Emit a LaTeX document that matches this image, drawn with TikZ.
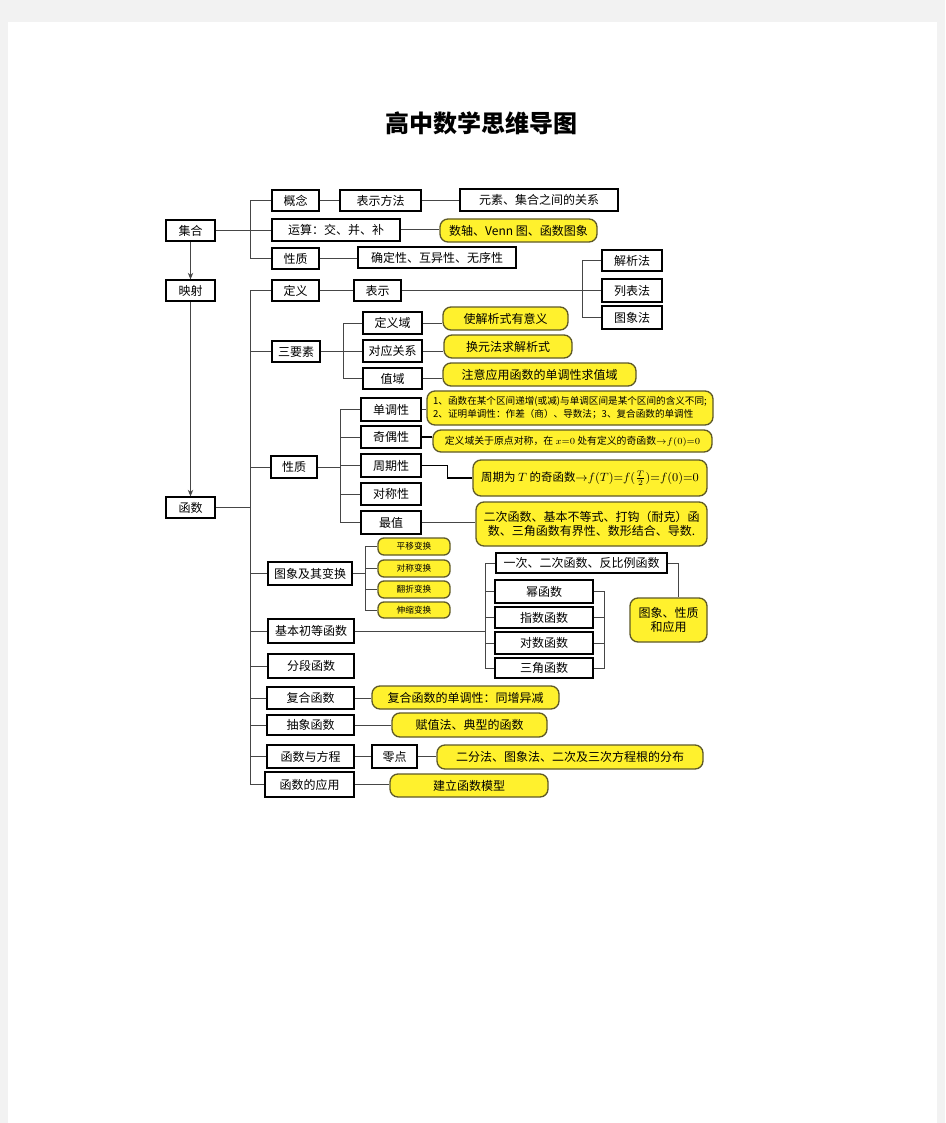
\documentclass[tikz,border=0pt]{standalone}
\usepackage{fontspec}
\setmainfont{Noto Sans CJK SC}
\usetikzlibrary{arrows.meta,calc}
\definecolor{yfill}{RGB}{255,241,45}
\definecolor{ydraw}{RGB}{95,90,40}
\definecolor{lgray}{RGB}{242,242,242}
\definecolor{lnc}{RGB}{70,70,70}
\newcommand\mkbox[7]{%
  \pgfmathsetmacro\cxx{(#2+#4)/2}\pgfmathsetmacro\cyy{(#3+#5)/2}%
  \pgfmathsetmacro\ww{(#4-#2)*0.75}\pgfmathsetmacro\hh{(#5-#3)*0.75}%
  \node[#6, minimum width=\ww pt, minimum height=\hh pt, inner sep=0pt] (#1) at (\cxx,\cyy) {#7};}
\begin{document}
\begin{tikzpicture}[x=0.75pt,y=-0.75pt,
  wbox/.style={draw=black,line width=0.8pt,fill=white,font=\fontsize{9}{11}\selectfont,align=center},
  ybox/.style={draw=ydraw,fill=yfill,line width=1pt,rounded corners=6pt,font=\fontsize{9}{11}\selectfont,align=center},
  sbox/.style={ybox,rounded corners=4.5pt,font=\fontsize{6.5}{8}\selectfont},
  conn/.style={draw=lnc,line width=0.75pt},
  arr/.style={conn,-{Stealth[length=5pt,width=4pt]}}]
\useasboundingbox (0,0) rectangle (945,1123);
\fill[lgray] (0,0) rectangle (945,1123);
\fill[white] (8,22) rectangle (937,1123);
\node[font=\fontsize{18}{20}\selectfont\bfseries] (title) at (481,123) {高中数学思维导图};
% 集合
\mkbox{jihe}{166}{220}{215}{241}{wbox}{集合}
\mkbox{yingshe}{166}{280}{215}{301}{wbox}{映射}
\mkbox{hanshu}{166}{497}{215}{518}{wbox}{函数}
\mkbox{gainian}{272}{190}{319}{211}{wbox}{概念}
\mkbox{yunsuan}{272}{219}{400}{241}{wbox}{运算：交、并、补}
\mkbox{xz1}{272}{248}{319}{269}{wbox}{性质}
\mkbox{bsff}{340}{190}{421}{211}{wbox}{表示方法}
\mkbox{ysgx}{460}{189}{618}{211}{wbox}{元素、集合之间的关系}
\mkbox{shuzhou}{440}{219}{597}{242}{ybox}{数轴、Venn 图、函数图象}
\mkbox{qdx}{358}{247}{516}{268}{wbox}{确定性、互异性、无序性}
% 定义
\mkbox{dingyi}{272}{280}{319}{301}{wbox}{定义}
\mkbox{biaoshi}{354}{280}{401}{301}{wbox}{表示}
\mkbox{jiexi}{602}{250}{662}{271}{wbox}{解析法}
\mkbox{liebiao}{602}{279}{662}{302}{wbox}{列表法}
\mkbox{tuxiang}{602}{306}{662}{329}{wbox}{图象法}
% 三要素
\mkbox{sanys}{272}{341}{320}{362}{wbox}{三要素}
\mkbox{dyy}{363}{312}{422}{334}{wbox}{定义域}
\mkbox{dygx}{363}{340}{422}{362}{wbox}{对应关系}
\mkbox{zy}{363}{368}{422}{389}{wbox}{值域}
\mkbox{dyyY}{443}{307}{568}{330}{ybox}{使解析式有意义}
\mkbox{dygxY}{444}{335}{572}{358}{ybox}{换元法求解析式}
\mkbox{zyY}{443}{363}{636}{386}{ybox}{注意应用函数的单调性求值域}
% 性质
\mkbox{xz2}{271}{456}{317}{478}{wbox}{性质}
\mkbox{ddx}{361}{398}{421}{421}{wbox}{单调性}
\mkbox{jox}{361}{426}{421}{448}{wbox}{奇偶性}
\mkbox{zqx}{361}{454}{421}{477}{wbox}{周期性}
\mkbox{dcx}{361}{483}{421}{505}{wbox}{对称性}
\mkbox{zz}{361}{511}{421}{534}{wbox}{最值}
\mkbox{ddxY}{427}{391}{713}{425}{ybox,align=left,font=\fontsize{7.2}{10}\selectfont}{1、函数在某个区间递增(或减)与单调区间是某个区间的含义不同;\\2、证明单调性：作差（商）、导数法；3、复合函数的单调性}
\mkbox{joxY}{433}{430}{712}{452}{ybox,font=\fontsize{7.4}{9}\selectfont}{定义域关于原点对称，在 $x{=}0$ 处有定义的奇函数${\rightarrow}f(0){=}0$}
\mkbox{zqxY}{473}{460}{707}{496}{ybox,font=\fontsize{8.6}{10}\selectfont}{周期为 $T$ 的奇函数${\rightarrow}f(T){=}f(\frac{T}{2}){=}f(0){=}0$}
\mkbox{zzY}{476}{502}{707}{546}{ybox}{二次函数、基本不等式、打钩（耐克）函\\数、三角函数有界性、数形结合、导数.}
% 图象及其变换
\mkbox{txbh}{268}{562}{352}{585}{wbox}{图象及其变换}
\mkbox{py}{378}{538}{450}{555}{sbox}{平移变换}
\mkbox{dc}{378}{560}{450}{577}{sbox}{对称变换}
\mkbox{fz}{378}{581}{450}{598}{sbox}{翻折变换}
\mkbox{ss}{378}{602}{450}{618}{sbox}{伸缩变换}
% 基本初等函数
\mkbox{jbcd}{268}{619}{354}{643}{wbox}{基本初等函数}
\mkbox{ycec}{496}{553}{667}{573}{wbox}{一次、二次函数、反比例函数}
\mkbox{mhs}{495}{580}{593}{603}{wbox}{幂函数}
\mkbox{zshs}{495}{607}{593}{628}{wbox}{指数函数}
\mkbox{dshs}{495}{632}{593}{654}{wbox}{对数函数}
\mkbox{sjhs}{495}{658}{593}{678}{wbox}{三角函数}
\mkbox{txxz}{630}{598}{707}{642}{ybox}{图象、性质\\和应用}
% rest
\mkbox{fdhs}{268}{654}{354}{678}{wbox}{分段函数}
\mkbox{fhhs}{267}{687}{354}{709}{wbox}{复合函数}
\mkbox{fhhsY}{372}{686}{559}{709}{ybox}{复合函数的单调性：同增异减}
\mkbox{cxhs}{267}{715}{354}{735}{wbox}{抽象函数}
\mkbox{cxhsY}{392}{713}{547}{737}{ybox}{赋值法、典型的函数}
\mkbox{hsfc}{267}{745}{354}{768}{wbox}{函数与方程}
\mkbox{ld}{372}{745}{417}{768}{wbox}{零点}
\mkbox{ldY}{437}{745}{703}{769}{ybox}{二分法、图象法、二次及三次方程根的分布}
\mkbox{hsyy}{265}{772}{354}{797}{wbox}{函数的应用}
\mkbox{hsyyY}{390}{774}{548}{797}{ybox}{建立函数模型}
% ---- connectors ----
\draw[arr] (jihe.south) -- (yingshe.north);
\draw[arr] (yingshe.south) -- (hanshu.north);
\coordinate (ta) at (250,230);
\draw[conn] (jihe.east) -- (jihe.east -| yunsuan.west);
\draw[conn] (gainian.west) -- (gainian.west -| ta) -- (xz1.west -| ta) -- (xz1.west);
\draw[conn] (gainian.east) -- (bsff.west);
\draw[conn] (bsff.east) -- (bsff.east -| ysgx.west);
\draw[conn] (yunsuan.east) -- (yunsuan.east -| shuzhou.west);
\draw[conn] (xz1.east) -- (xz1.east -| qdx.west);
\coordinate (tb) at (250,507);
\draw[conn] (hanshu.east) -- (hanshu.east -| tb);
\draw[conn] (dingyi.west) -- (dingyi.west -| tb) -- (hsyy.west -| tb) -- (hsyy.west);
\foreach \n in {sanys,xz2,txbh,jbcd,fdhs,fhhs,cxhs,hsfc}{\draw[conn] (\n.west) -- (\n.west -| tb);}
\draw[conn] (dingyi.east) -- (biaoshi.west);
\draw[conn] (biaoshi.east) -- (biaoshi.east -| liebiao.west);
\coordinate (tc) at (582,290);
\draw[conn] (jiexi.west) -- (jiexi.west -| tc) -- (tuxiang.west -| tc) -- (tuxiang.west);
\coordinate (td) at (343,351);
\draw[conn] (sanys.east) -- (sanys.east -| td);
\draw[conn] (dyy.west) -- (dyy.west -| td) -- (zy.west -| td) -- (zy.west);
\draw[conn] (dygx.west) -- (dygx.west -| td);
\draw[conn] (dyy.east) -- (dyy.east -| dyyY.west);
\draw[conn] (dygx.east) -- (dygx.east -| dygxY.west);
\draw[conn] (zy.east) -- (zy.east -| zyY.west);
\coordinate (te) at (340,467);
\draw[conn] (xz2.east) -- (xz2.east -| te);
\draw[conn] (ddx.west) -- (ddx.west -| te) -- (zz.west -| te) -- (zz.west);
\foreach \n in {jox,zqx,dcx}{\draw[conn] (\n.west) -- (\n.west -| te);}
\draw[conn] (ddx.east) -- (ddx.east -| ddxY.west);
\draw[conn,line width=1.1pt,draw=black] (jox.east) -- (jox.east -| joxY.west);
\draw[conn,line width=1.1pt,draw=black] (zqx.east) -- ++(26,0) |- (zqxY.west);
\draw[conn] (zz.east) -- (zz.east -| zzY.west);
\coordinate (tf) at (365,573);
\draw[conn] (txbh.east) -- (txbh.east -| tf);
\draw[conn] (py.west) -- (py.west -| tf) -- (ss.west -| tf) -- (ss.west);
\draw[conn] (dc.west) -- (dc.west -| tf);
\draw[conn] (fz.west) -- (fz.west -| tf);
\coordinate (tg) at (485,631);
\draw[conn] (jbcd.east) -- (jbcd.east -| tg);
\draw[conn] (ycec.west) -- (ycec.west -| tg) -- (sjhs.west -| tg) -- (sjhs.west);
\foreach \n in {mhs,zshs,dshs}{\draw[conn] (\n.west) -- (\n.west -| tg);}
\coordinate (th) at (604,620);
\draw[conn] (mhs.east) -- (mhs.east -| th) -- (sjhs.east -| th) -- (sjhs.east);
\draw[conn] (zshs.east) -- (zshs.east -| th);
\draw[conn] (dshs.east) -- (dshs.east -| th);
\draw[conn] (ycec.east) -- ++(11,0) coordinate (ti) -- (ti |- txxz.north);
\draw[conn] (fhhs.east) -- (fhhs.east -| fhhsY.west);
\draw[conn] (cxhs.east) -- (cxhs.east -| cxhsY.west);
\draw[conn] (hsfc.east) -- (hsfc.east -| ld.west);
\draw[conn] (ld.east) -- (ld.east -| ldY.west);
\draw[conn] (hsyy.east) -- (hsyy.east -| hsyyY.west);
\end{tikzpicture}
\end{document}
